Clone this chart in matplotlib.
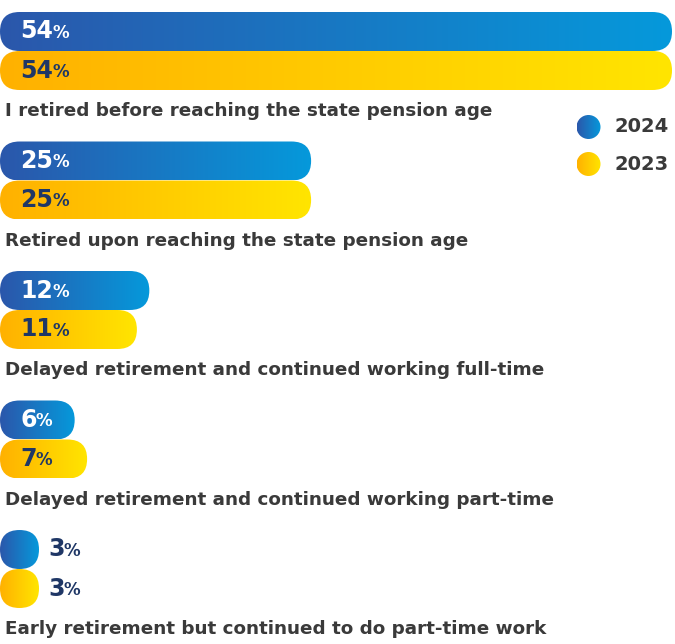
import matplotlib.pyplot as plt
from matplotlib.patches import FancyBboxPatch, Circle
from matplotlib.colors import LinearSegmentedColormap
import numpy as np

# Datos
categorias = [
    "I retired before reaching the state pension age",
    "Retired upon reaching the state pension age",
    "Delayed retirement and continued working full-time",
    "Delayed retirement and continued working part-time",
    "Early retirement but continued to do part-time work",
]
valores_2024 = [54, 25, 12, 6, 3]
valores_2023 = [54, 25, 11, 7, 3]
series = ["2024", "2023"]

# Colores
azul = LinearSegmentedColormap.from_list("azul", ["#2b57ab", "#0599db"])
amarillo = LinearSegmentedColormap.from_list("amarillo", ["#ffb100", "#ffe500"])
gris = "#3a3a3a"
navy = "#1f3766"

# Escala: pixeles por punto porcentual (misma escala en ambos ejes)
ppx = 672 / 54
W, H = 675, 644
alto = 39 / ppx
paso = 129.5 / ppx
top0 = 12 / ppx

fig = plt.figure(figsize=(W / 100, H / 100), dpi=100)
ax = fig.add_axes([0, 0, 1, 1])
ax.set_xlim(0, W / ppx)
ax.set_ylim(H / ppx, 0)
ax.axis("off")

grad = np.linspace(0, 1, 256).reshape(1, -1)
fuente = "DejaVu Sans"


def barra(x_fin, y_top, cmap):
    ancho = max(x_fin, alto)
    p = FancyBboxPatch((0, y_top), ancho, alto,
                       boxstyle=f"round,pad=0,rounding_size={alto / 2}",
                       linewidth=0, facecolor="none")
    ax.add_patch(p)
    im = ax.imshow(grad, cmap=cmap, extent=[0, ancho, y_top + alto, y_top],
                   aspect="auto", interpolation="bicubic")
    im.set_clip_path(p)
    return ancho


def etiqueta(valor, x, yc, color):
    t = ax.text(x, yc, str(valor), fontsize=17, fontweight="bold",
                color=color, va="center", ha="left", family=fuente)
    ax.annotate("%", xy=(1, 0.08), xycoords=t, fontsize=12, fontweight="bold",
                color=color, va="bottom", ha="left", family=fuente,
                xytext=(-0.5, 0), textcoords="offset points")


for i, cat in enumerate(categorias):
    y_top = top0 + i * paso
    for j, (vals, cmap) in enumerate([(valores_2024, azul), (valores_2023, amarillo)]):
        yt = y_top + j * alto
        ancho = barra(vals[i], yt, cmap)
        yc = yt + alto / 2
        if vals[i] >= 5:
            color = "white" if j == 0 else navy
            etiqueta(vals[i], 20 / ppx, yc, color)
        else:
            etiqueta(vals[i], ancho + 9 / ppx, yc, navy)
    ax.text(5 / ppx, y_top + 2 * alto + 21 / ppx, cat, fontsize=13.2,
            color=gris, va="center", ha="left", family=fuente,
            fontweight="semibold")

# Leyenda
for k, (nombre, cmap) in enumerate(zip(series, [azul, amarillo])):
    cx, cy, r = 588.5 / ppx, (127 + 37 * k) / ppx, 12 / ppx
    c = Circle((cx, cy), r, facecolor="none", linewidth=0)
    ax.add_patch(c)
    im = ax.imshow(grad, cmap=cmap, extent=[cx - r, cx + r, cy + r, cy - r],
                   aspect="auto", interpolation="bicubic")
    im.set_clip_path(c)
    ax.text(614 / ppx, cy, nombre, fontsize=14, color=gris, va="center",
            ha="left", family=fuente, fontweight="semibold")

ax.set_xlim(0, W / ppx)
ax.set_ylim(H / ppx, 0)
fig.savefig("out.png", dpi=100)
